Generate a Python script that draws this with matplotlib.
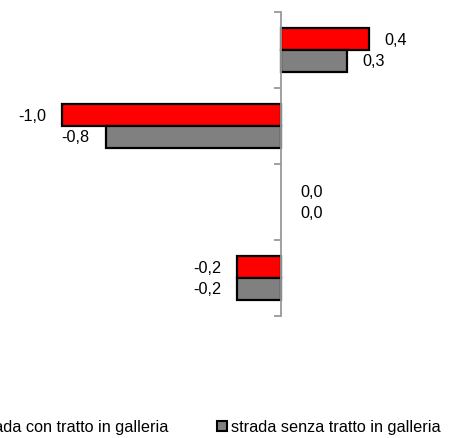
import matplotlib.pyplot as plt
import numpy as np
from matplotlib.patches import Rectangle

plt.rcParams['font.family'] = ['Liberation Sans', 'DejaVu Sans']

categories = ['1', '2', '3', '4']
con_galleria = [0.4, -1.0, 0.0, -0.2]
senza_galleria = [0.3, -0.8, 0.0, -0.2]
series_names = ['strada con tratto in galleria', 'strada senza tratto in galleria']

RED = '#ff0000'
GRAY = '#808080'
FS = 11.7

fig = plt.figure(figsize=(4.54, 4.39), dpi=100)
W, H = 454, 439
zero_px = 281
unit_px = 219
ax = fig.add_axes([0, (H - 317) / H, 1, 304 / H])
ax.set_xlim(-zero_px / unit_px, (W - zero_px) / unit_px)
ax.set_ylim(len(categories) - 0.5, -0.5)

y = np.arange(len(categories))
h = 0.285
lw_con = [1.6 if v != 0 else 0 for v in con_galleria]
lw_senza = [1.6 if v != 0 else 0 for v in senza_galleria]
ax.barh(y - h / 2, con_galleria, height=h, color=RED, edgecolor='black', linewidth=lw_con)
ax.barh(y + h / 2, senza_galleria, height=h, color=GRAY, edgecolor='black', linewidth=lw_senza)

def fmt(v):
    return ('%.1f' % v).replace('.', ',')

off = 16 / unit_px
for vals, dy in [(con_galleria, -h / 2), (senza_galleria, h / 2)]:
    for i, v in enumerate(vals):
        if v < 0:
            ax.text(v - off, i + dy, fmt(v), ha='right', va='center', fontsize=FS)
        else:
            ax.text(v + off + (3 / unit_px if v == 0 else 0), i + dy, fmt(v),
                    ha='left', va='center', fontsize=FS)

for s in ['top', 'right', 'bottom']:
    ax.spines[s].set_visible(False)
ax.spines['left'].set_position(('data', 0))
ax.spines['left'].set_color('#999999')
ax.spines['left'].set_linewidth(1.3)
ax.set_xticks([])
ax.set_yticks(np.arange(-0.5, len(categories)))
ax.set_yticklabels([])
ax.tick_params(axis='y', direction='out', length=5, color='#999999', width=1.3)
ax.set_zorder(1)

handles = [Rectangle((0, 0), 1, 1, facecolor=RED, edgecolor='black', linewidth=1.5),
           Rectangle((0, 0), 1, 1, facecolor=GRAY, edgecolor='black', linewidth=1.5)]
fig.legend(handles, series_names, loc='center left', bbox_to_anchor=(-38 / W, (H - 428) / H),
           ncol=2, frameon=False, fontsize=FS, handlelength=0.6, handleheight=0.6,
           handletextpad=0.25, columnspacing=3.0, borderaxespad=0, borderpad=0)

fig.savefig('out.png', dpi=100)
